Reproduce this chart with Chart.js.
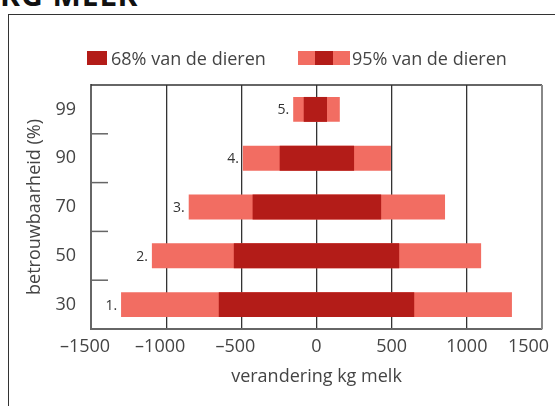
<!DOCTYPE html>
<html>
<head>
<meta charset="utf-8">
<script src="https://cdn.jsdelivr.net/npm/chart.js@4.4.0/dist/chart.umd.min.js"></script>
<style>
  html, body { margin: 0; padding: 0; background: #fff; }
  #wrap { position: relative; width: 555px; height: 406px; overflow: hidden; font-family: "Open Sans", sans-serif; }
  #kop { position: absolute; left: 0; top: -26px; font: 700 30px "Open Sans", sans-serif; color: #111; letter-spacing: 1px; }
  #kader { position: absolute; left: 8px; top: 14px; width: 600px; height: 450px; border-left: 1.5px solid #333; border-top: 1.5px solid #333; }
  #chart { position: absolute; left: 0; top: 0; }
  .leg { position: absolute; top: 47px; font-size: 18px; color: #444; line-height: 22px; }
  .sw { position: absolute; height: 14px; }
</style>
</head>
<body>
<div id="wrap">
  <div id="kop">KG MELK</div>
  <div id="kader"></div>
  <canvas id="chart" width="600" height="406"></canvas>
  <div class="sw" style="left:87px; top:51px; width:20px; background:#B31C18"></div>
  <div class="leg" style="left:111px">68% van de dieren</div>
  <div class="sw" style="left:298px; top:51px; width:17px; background:#F26D62"></div>
  <div class="sw" style="left:315px; top:51px; width:18px; background:#B31C18"></div>
  <div class="sw" style="left:333px; top:51px; width:17px; background:#F26D62"></div>
  <div class="leg" style="left:352px">95% van de dieren</div>
</div>
<script>
// ====================================================================
// DATA
// ====================================================================
const categorieen = ['99', '90', '70', '50', '30'];
const nummers = ['5.', '4.', '3.', '2.', '1.'];
const bereik68 = [[-85, 70], [-245, 250], [-425, 430], [-550, 550], [-650, 650]];
const bereik95 = [[-155, 155], [-490, 495], [-850, 855], [-1095, 1095], [-1300, 1300]];
const xTicks = [-1500, -1000, -500, 0, 500, 1000, 1500];

const donkerRood = '#B31C18';
const lichtRood = '#F26D62';

// tick-tekst: en-streepje voor negatief, en wat ruimte zodat de labels
// net zo verschoven staan als in het origineel
function tickTekst(v) {
    if (v < 0) return '\u2013' + Math.abs(v) + '\u2002\u2009';
    if (v === 1500) return v + '\u2003\u2002';
    return String(v);
}

// ====================================================================
// PLUGIN: rand rechts/boven, streepjes op y-as, nummers bij de balken
// ====================================================================
const extraTekening = {
    id: 'extraTekening',
    afterDraw(chart) {
        const { ctx, chartArea: a, scales } = chart;
        const y = scales.y;
        const x = scales.x;
        ctx.save();

        // bovenrand
        ctx.strokeStyle = '#333';
        ctx.lineWidth = 1.5;
        ctx.beginPath();
        ctx.moveTo(a.left, a.top);
        ctx.lineTo(a.right, a.top);
        ctx.stroke();

        // rechterrand
        ctx.strokeStyle = '#888';
        ctx.lineWidth = 2;
        ctx.beginPath();
        ctx.moveTo(a.right, a.top);
        ctx.lineTo(a.right, a.bottom);
        ctx.stroke();

        // korte streepjes tussen de categorieen
        ctx.strokeStyle = '#666';
        ctx.lineWidth = 1.5;
        for (let i = 0; i < categorieen.length - 1; i++) {
            const py = (y.getPixelForTick(i) + y.getPixelForTick(i + 1)) / 2;
            ctx.beginPath();
            ctx.moveTo(a.left, py);
            ctx.lineTo(a.left + 17, py);
            ctx.stroke();
        }

        // nummers links van de balken
        ctx.fillStyle = '#333';
        ctx.font = '14px "Open Sans", sans-serif';
        ctx.textAlign = 'right';
        ctx.textBaseline = 'middle';
        nummers.forEach((n, i) => {
            const px = x.getPixelForValue(bereik95[i][0]) - 4;
            ctx.fillText(n, px, y.getPixelForTick(i) + 1);
        });
        ctx.restore();
    }
};

// ====================================================================
// GRAFIEK
// ====================================================================
new Chart(document.getElementById('chart').getContext('2d'), {
    type: 'bar',
    data: {
        labels: categorieen,
        datasets: [
            {
                label: '68% van de dieren',
                data: bereik68,
                backgroundColor: donkerRood,
                grouped: false,
                order: 0,
                barPercentage: 1,
                categoryPercentage: 0.51
            },
            {
                label: '95% van de dieren',
                data: bereik95,
                backgroundColor: lichtRood,
                grouped: false,
                order: 1,
                barPercentage: 1,
                categoryPercentage: 0.51
            }
        ]
    },
    options: {
        indexAxis: 'y',
        responsive: false,
        animation: false,
        layout: { padding: { left: 0, top: 85, right: 58, bottom: 0 } },
        plugins: {
            legend: { display: false },
            tooltip: { enabled: false }
        },
        scales: {
            x: {
                min: -1500,
                max: 1500,
                afterBuildTicks: s => { s.ticks = xTicks.map(v => ({ value: v })); },
                afterFit: s => { s.height = 77; },
                ticks: {
                    padding: 7,
                    color: '#444',
                    font: { family: 'Open Sans', size: 18 },
                    callback: v => tickTekst(v)
                },
                grid: {
                    drawTicks: false,
                    lineWidth: 1.3,
                    color: c => (c.tick && Math.abs(c.tick.value) === 1500) ? 'rgba(0,0,0,0)' : '#333'
                },
                border: { color: '#666', width: 2 },
                title: {
                    display: true,
                    text: 'verandering kg melk',
                    color: '#444',
                    font: { family: 'Open Sans', size: 18 },
                    padding: { top: 0, bottom: 18 }
                }
            },
            y: {
                afterFit: s => { s.width = 91; },
                ticks: {
                    padding: 15,
                    color: '#444',
                    font: { family: 'Open Sans', size: 18 }
                },
                grid: { display: false, drawTicks: false },
                border: { color: '#666', width: 2 },
                title: {
                    display: true,
                    text: 'betrouwbaarheid (%)',
                    color: '#444',
                    font: { family: 'Open Sans', size: 18 },
                    padding: { top: 24, bottom: 0 }
                }
            }
        }
    },
    plugins: [extraTekening]
});
</script>
</body>
</html>
